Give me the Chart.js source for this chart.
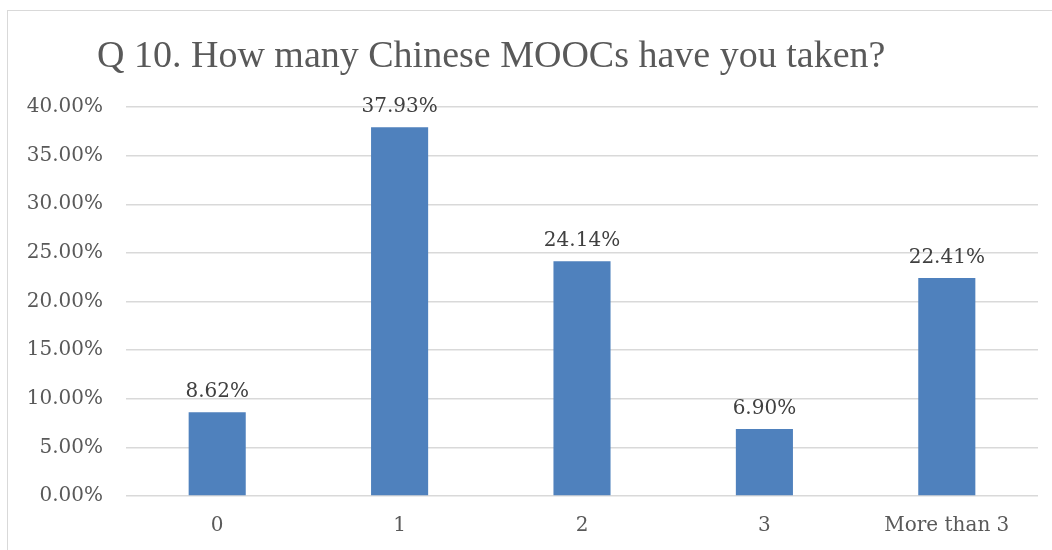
<!DOCTYPE html>
<html>
<head>
<meta charset="utf-8">
<script src="https://cdn.jsdelivr.net/npm/chart.js@4.4.1/dist/chart.umd.min.js"></script>
<style>
  html, body { margin: 0; padding: 0; background: #ffffff; }
  #wrap { position: relative; width: 1052px; height: 550px; overflow: hidden; }
  #frame { position: absolute; left: 7px; top: 10px; width: 1100px; height: 600px;
           border: 1px solid #d9d9d9; box-sizing: border-box; }
  canvas { position: absolute; left: 0; top: 0; }
</style>
</head>
<body>
<div id="wrap">
  <div id="frame"></div>
  <canvas id="c" width="1052" height="550"></canvas>
</div>
<script>
// Survey answers: number of Chinese MOOCs taken (share of respondents, %)
const titleText = 'Q 10. How many Chinese MOOCs have you taken?';
const categories = ['0', '1', '2', '3', 'More than 3'];
const shares = [8.62, 37.93, 24.14, 6.90, 22.41];
const yTicks = [0, 5, 10, 15, 20, 25, 30, 35, 40];

const serif = "'DejaVu Serif', 'Liberation Serif', serif";

// Chart heading, drawn left of centre like the original layout
const headingPlugin = {
  id: 'heading',
  afterDraw(chart) {
    const ctx = chart.ctx;
    ctx.save();
    ctx.font = "38px 'Liberation Serif', serif";
    ctx.fillStyle = '#595959';
    ctx.textAlign = 'left';
    ctx.textBaseline = 'alphabetic';
    ctx.fillText(titleText, 97, 67);
    ctx.restore();
  }
};

// Value labels printed above each bar
const valueLabels = {
  id: 'valueLabels',
  afterDatasetsDraw(chart) {
    const ctx = chart.ctx;
    const meta = chart.getDatasetMeta(0);
    const data = chart.data.datasets[0].data;
    ctx.save();
    ctx.font = '20px ' + serif;
    ctx.fillStyle = '#404040';
    ctx.textAlign = 'center';
    ctx.textBaseline = 'alphabetic';
    meta.data.forEach((bar, i) => {
      ctx.fillText(data[i].toFixed(2) + '%', bar.x, bar.y - 15);
    });
    ctx.restore();
  }
};

new Chart(document.getElementById('c'), {
  type: 'bar',
  data: {
    labels: categories,
    datasets: [{
      data: shares,
      backgroundColor: '#4f81bd',
      borderWidth: 0,
      barPercentage: 0.313,
      categoryPercentage: 1.0
    }]
  },
  options: {
    responsive: false,
    animation: false,
    layout: { padding: { top: 107, right: 14, left: 0, bottom: 0 } },
    plugins: {
      legend: { display: false },
      title: { display: false },
      tooltip: { enabled: false }
    },
    scales: {
      x: {
        grid: { display: false, drawTicks: false },
        border: { display: false },
        ticks: {
          color: '#595959',
          font: { family: serif, size: 20 },
          padding: 18,
          maxRotation: 0
        },
        afterFit(scale) { scale.height = 54; }
      },
      y: {
        min: 0,
        max: 40,
        afterBuildTicks(scale) { scale.ticks = yTicks.map(v => ({ value: v })); },
        grid: { color: '#d9d9d9', lineWidth: 1.5, drawTicks: false },
        border: { display: false },
        ticks: {
          color: '#595959',
          font: { family: serif, size: 20 },
          padding: 23,
          callback: v => v.toFixed(2) + '%'
        },
        afterFit(scale) { scale.width = 126; }
      }
    }
  },
  plugins: [headingPlugin, valueLabels]
});
</script>
</body>
</html>
